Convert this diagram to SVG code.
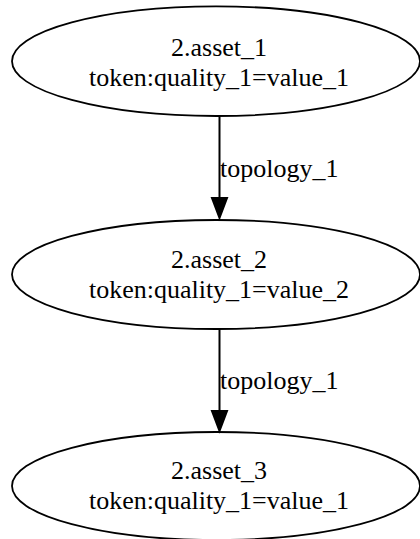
<svg xmlns="http://www.w3.org/2000/svg" width="420" height="539" viewBox="0 0 420 539">
<style>
.node ellipse{fill:none;stroke:#000;stroke-width:1.8}
.node text{font-family:"Liberation Serif","Times New Roman",serif;font-size:26px;text-anchor:middle;fill:#000}
.edge line{stroke:#000;stroke-width:2}
.edge polygon{fill:#000;stroke:#000;stroke-width:2}
.edge text{font-family:"Liberation Serif","Times New Roman",serif;font-size:26px;fill:#000}
</style>
<rect width="420" height="539" fill="#fff"/>
<g id="edges">
<g class="edge" id="e1">
<line x1="219.5" y1="116" x2="219.5" y2="198"/>
<polygon points="212,198 227,198 219.5,218"/>
<text x="220" y="177">topology_1</text>
</g>
<g class="edge" id="e2">
<line x1="219.5" y1="329" x2="219.5" y2="411"/>
<polygon points="212,411 227,411 219.5,431"/>
<text x="220" y="389">topology_1</text>
</g>
</g>
<g class="node" id="n1">
<ellipse cx="216" cy="61.2" rx="204" ry="54.8"/>
<text x="219" y="56">2.asset_1</text>
<text x="219" y="86">token:quality_1=value_1</text>
</g>
<g class="node" id="n2">
<ellipse cx="216" cy="274.5" rx="204" ry="54.5"/>
<text x="219" y="268">2.asset_2</text>
<text x="219" y="298">token:quality_1=value_2</text>
</g>
<g class="node" id="n3">
<ellipse cx="216" cy="486" rx="204" ry="54"/>
<text x="219" y="479">2.asset_3</text>
<text x="219" y="509">token:quality_1=value_1</text>
</g>
</svg>
